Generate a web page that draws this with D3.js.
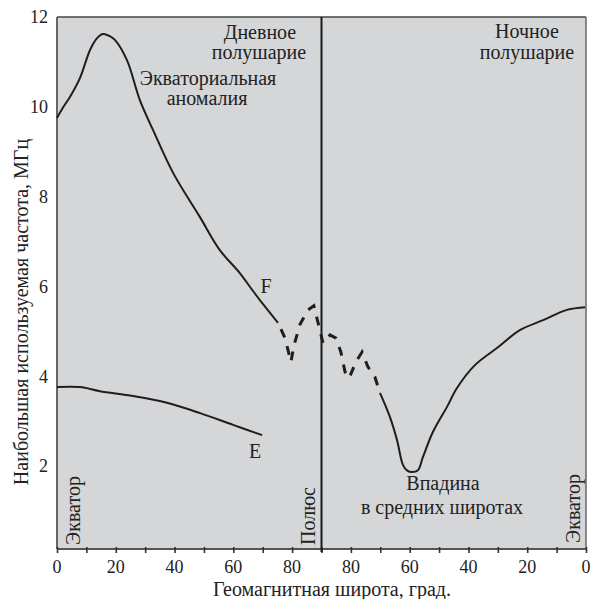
<!DOCTYPE html>
<html>
<head>
<meta charset="utf-8">
<script src="https://cdn.jsdelivr.net/npm/d3@7"></script>
<style>
  body { margin: 0; background: #fff; }
  text { font-family: "Liberation Serif", "DejaVu Serif", serif; fill: #222; }
</style>
</head>
<body>
<div id="chart"></div>
<script>
// chart size & margins
let svgWidth = 592;
let svgHeight = 599;
let margin = { top: 17, right: 6, bottom: 50, left: 57 };
let width = svgWidth - margin.left - margin.right;
let height = svgHeight - margin.top - margin.bottom;

// x runs 0..180: 0-90 day side latitude, 90-180 night side (latitude = 180 - x)
let xTicks = [0, 10, 20, 30, 40, 50, 60, 70, 80, 90, 100, 110, 120, 130, 140, 150, 160, 170, 180];
let xTickLabels = [0, 20, 40, 60, 80, 100, 120, 140, 160, 180];
let yTickLabels = [2, 4, 6, 8, 10, 12];

// F layer, day side (solid)
let fDay = [
  [0, 9.75], [2.2, 10.0], [4.4, 10.22], [7.8, 10.64], [11.2, 11.26], [13.5, 11.52],
  [15.6, 11.62], [17.8, 11.58], [19.7, 11.49], [23.8, 11.04], [28.2, 10.15],
  [32.7, 9.48], [39.5, 8.53], [48.6, 7.55], [55.4, 6.81], [62.2, 6.30],
  [66.7, 5.90], [71.4, 5.50], [75.2, 5.19]
];
// F layer near the pole (dashed)
let fPolar = [
  [75.2, 5.19], [77.6, 4.85], [79.6, 4.32], [80.6, 4.68], [82.7, 5.16],
  [85.4, 5.48], [87.4, 5.57], [89.1, 5.12], [90.5, 4.74], [92.9, 4.92],
  [94.9, 4.85], [96.6, 4.54], [98.0, 4.10], [99.4, 3.96], [101.7, 4.32],
  [103.8, 4.54], [105.8, 4.21], [108.2, 3.98], [109.9, 3.63]
];
// F layer, night side (solid)
let fNight = [
  [109.9, 3.63], [113.3, 3.09], [115.7, 2.58], [117.7, 2.03], [119.2, 1.90],
  [120.8, 1.87], [122.8, 1.91], [124.5, 2.20], [127.9, 2.76], [132.7, 3.32],
  [136.1, 3.74], [142.2, 4.25], [149.7, 4.63], [157.5, 5.03], [165.4, 5.25],
  [173.5, 5.48], [179.7, 5.54]
];
// E layer, day side
let eDay = [
  [0, 3.76], [7.8, 3.76], [14.6, 3.67], [25.9, 3.56], [37.4, 3.41],
  [48.7, 3.18], [59.9, 2.92], [69.8, 2.69]
];

let svg = d3.select('#chart').append('svg')
  .attr('width', svgWidth).attr('height', svgHeight);
let g = svg.append('g').attr('transform', `translate(${margin.left}, ${margin.top})`);

let x = d3.scaleLinear().domain([0, 180]).range([0, width]);
let y = d3.scaleLinear().domain([0, 12]).range([539, 0]);

// plot background
g.append('rect')
  .attr('x', 0).attr('y', 0).attr('width', width).attr('height', height)
  .attr('fill', '#d5d6d8').attr('stroke', 'none');

// borders
g.append('line').attr('x1', 0).attr('x2', width).attr('y1', 0).attr('y2', 0)
  .attr('stroke', '#444').attr('stroke-width', 1.5);
g.append('line').attr('x1', 0).attr('x2', 0).attr('y1', 0).attr('y2', height)
  .attr('stroke', '#666').attr('stroke-width', 2);
g.append('line').attr('x1', width).attr('x2', width).attr('y1', 0).attr('y2', height)
  .attr('stroke', '#666').attr('stroke-width', 1.5);

// x axis
let xAxis = d3.axisBottom(x)
  .tickValues(xTicks)
  .tickSize(6)
  .tickFormat('');
let xAxisG = g.append('g')
  .attr('transform', `translate(0, ${height - 2})`)
  .call(xAxis);
xAxisG.select('.domain').attr('stroke', '#555').attr('stroke-width', 2)
  .attr('d', `M0,2H${width}`);
xAxisG.selectAll('.tick line').attr('stroke', '#333').attr('stroke-width', 1.6);

g.selectAll('.xLabel')
  .data(xTickLabels)
  .enter()
  .append('text')
  .attr('class', 'xLabel')
  .attr('x', d => x(d))
  .attr('y', 573 - margin.top)
  .attr('text-anchor', 'middle')
  .attr('font-size', '18px')
  .text(d => d <= 90 ? d : 180 - d);

// y labels (no tick marks)
g.selectAll('.yLabel')
  .data(yTickLabels)
  .enter()
  .append('text')
  .attr('class', 'yLabel')
  .attr('x', -9)
  .attr('y', d => y(d))
  .attr('dy', '0.35em')
  .attr('text-anchor', 'end')
  .attr('font-size', '18px')
  .text(d => d);

// pole line
g.append('line')
  .attr('x1', x(90)).attr('x2', x(90))
  .attr('y1', 0).attr('y2', height + 3)
  .attr('stroke', '#1a1a1a').attr('stroke-width', 2);

// curves
let line = d3.line()
  .x(d => x(d[0]))
  .y(d => y(d[1]))
  .curve(d3.curveCatmullRom);

[fDay, fNight, eDay].forEach(function(series) {
  g.append('path')
    .datum(series)
    .attr('d', line)
    .attr('fill', 'none')
    .attr('stroke', '#1e1e1e')
    .attr('stroke-width', 2);
});

g.append('path')
  .datum(fPolar)
  .attr('d', d3.line().x(d => x(d[0])).y(d => y(d[1])))
  .attr('fill', 'none')
  .attr('stroke', '#1e1e1e')
  .attr('stroke-width', 3)
  .attr('stroke-dasharray', '0,7,9,2');

// annotations (page coordinates)
function addText(tx, ty, str, anchor, rotate) {
  let t = svg.append('text')
    .attr('font-size', '20px')
    .attr('text-anchor', anchor || 'middle')
    .text(str);
  if (rotate) {
    t.attr('transform', `translate(${tx}, ${ty}) rotate(-90)`);
  } else {
    t.attr('x', tx).attr('y', ty);
  }
  return t;
}

addText(260, 39, 'Дневное');
addText(259, 59, 'полушарие');
addText(527, 38, 'Ночное');
addText(527, 59, 'полушарие');
addText(208, 85, 'Экваториальная');
addText(207, 105, 'аномалия');
addText(266, 293, 'F');
addText(255, 458, 'E');
addText(443, 490, 'Впадина');
addText(442, 514, 'в средних широтах');
addText(80, 545, 'Экватор', 'start', true);
addText(315, 545, 'Полюс', 'start', true);
addText(580, 543, 'Экватор', 'start', true);

// axis titles
addText(28, 312, 'Наибольшая используемая частота, МГц', 'middle', true);
addText(332, 596, 'Геомагнитная широта, град.');
</script>
</body>
</html>
